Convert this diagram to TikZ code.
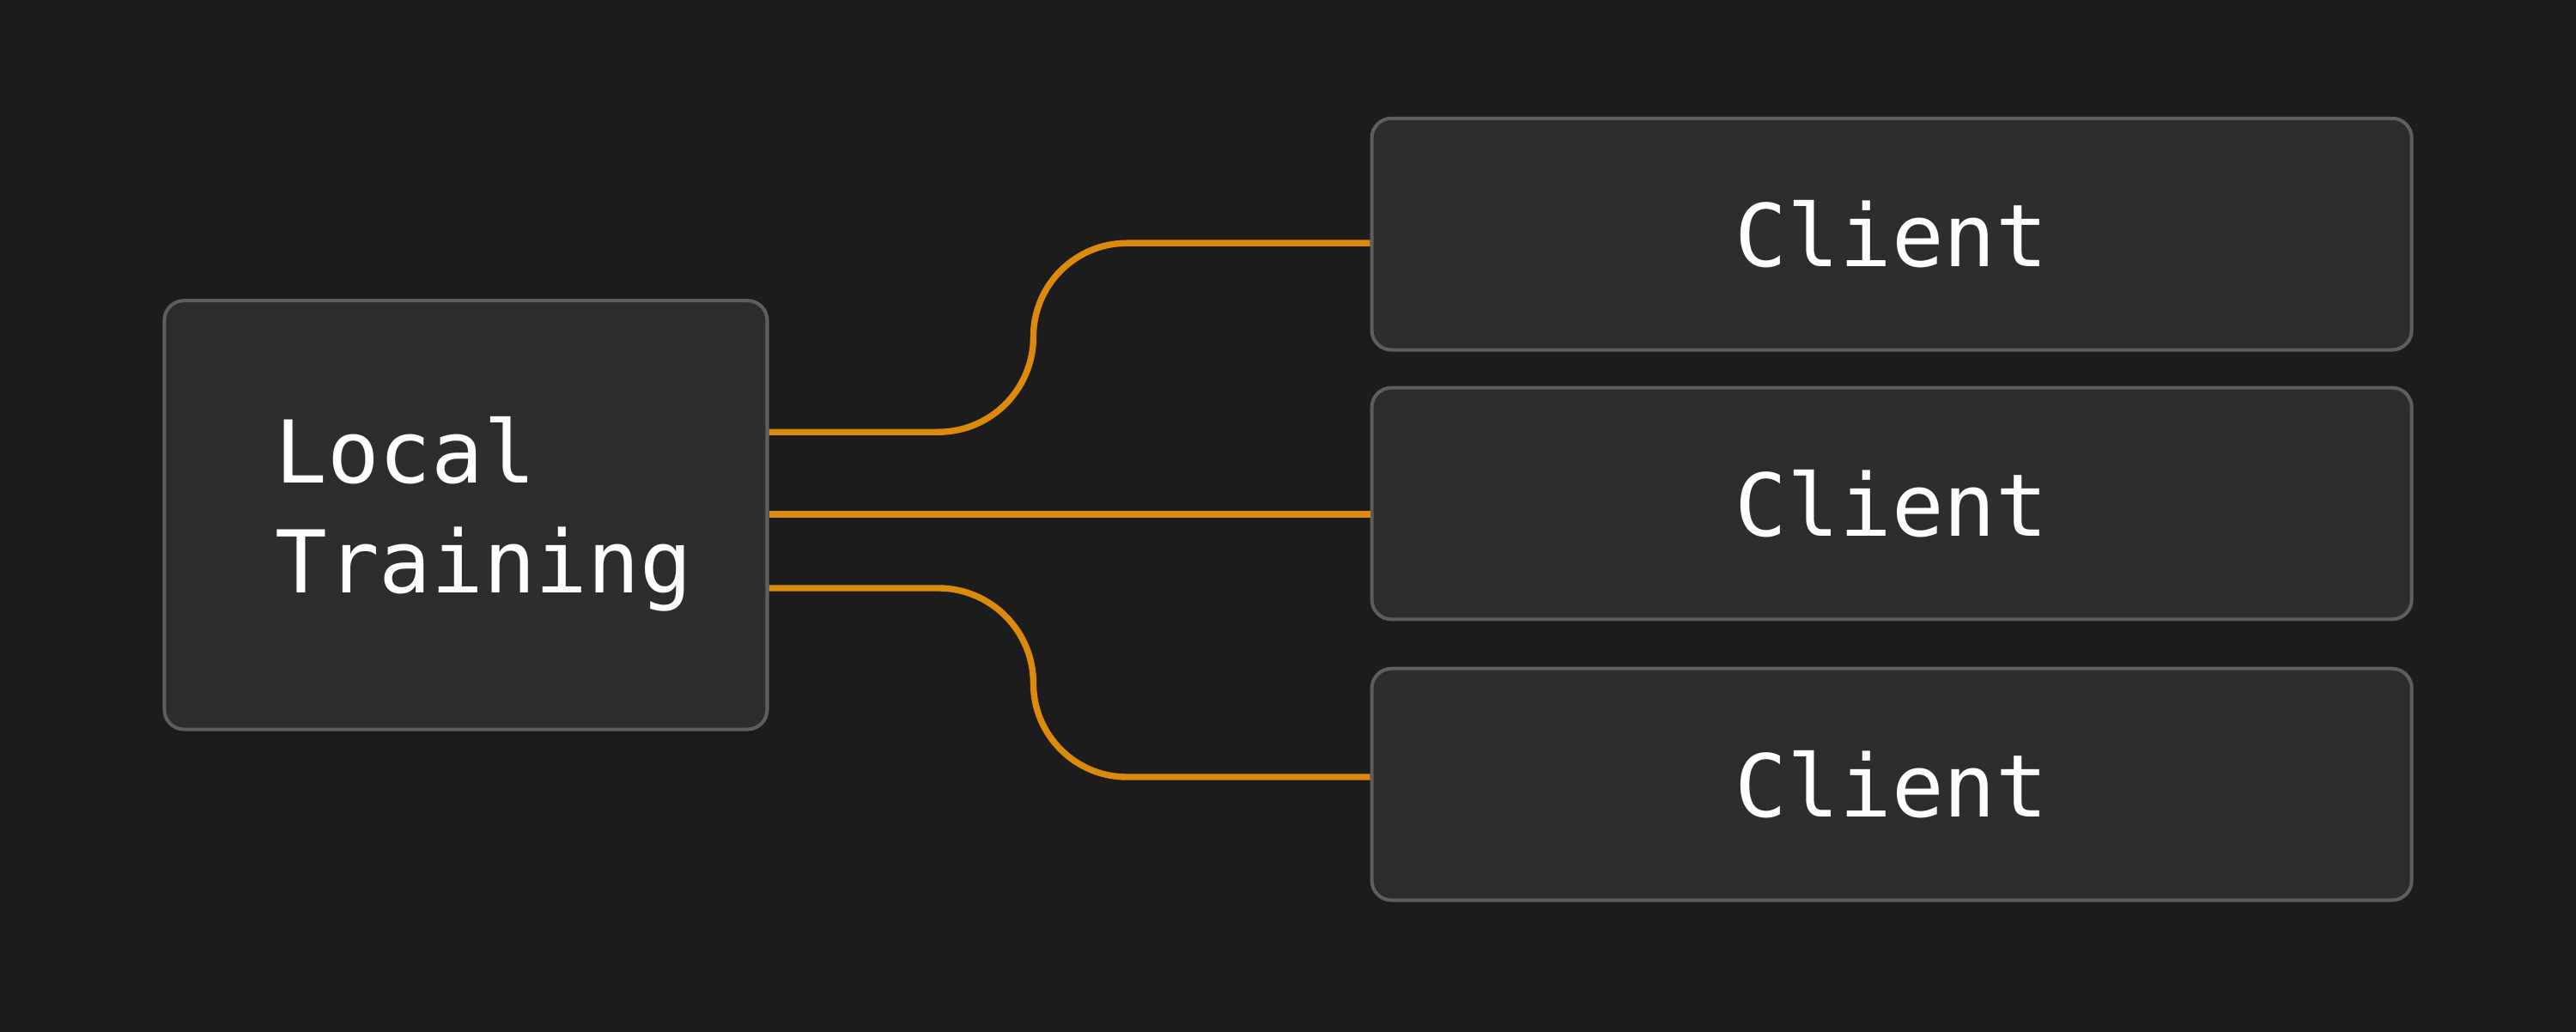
\documentclass[tikz,border=0pt]{standalone}
\usepackage{fontspec}
\setmonofont{DejaVu Sans Mono}
\definecolor{bgdark}{HTML}{1C1C1C}
\definecolor{boxfill}{HTML}{2D2D2D}
\definecolor{boxline}{HTML}{5E5E5E}
\definecolor{wire}{HTML}{DB8A0C}
\tikzset{
  box/.style={draw=boxline, fill=boxfill, rounded corners=0.12cm, line width=0.6pt,
    text=white, font=\ttfamily\fontsize{15}{19}\selectfont},
  link/.style={draw=wire, line width=1.1pt}
}
\begin{document}
\begin{tikzpicture}
\fill[bgdark] (0,0) rectangle (15.68,6.28);
\useasboundingbox (0,0) rectangle (15.68,6.28);

\node[box, minimum width=3.67cm, minimum height=2.61cm] (lt) at (2.835,3.145) {};
\node[text=white, font=\ttfamily\fontsize{15}{19}\selectfont, align=left, anchor=west]
  (ltlabel) at (1.55,3.15) {Local\\Training};
\node[box, minimum width=6.33cm, minimum height=1.41cm] (c1) at (11.515,4.855) {Client};
\node[box, minimum width=6.33cm, minimum height=1.41cm] (c2) at (11.515,3.215) {Client};
\node[box, minimum width=6.33cm, minimum height=1.41cm] (c3) at (11.515,1.505) {Client};

% connectors
\coordinate (up) at (5.71,3.65);
\coordinate (dn) at (5.71,2.70);
\draw[link] (lt.east |- up) -- (up) arc[start angle=-90, end angle=0, radius=0.58]
  arc[start angle=180, end angle=90, radius=0.57] -- ++(1.48,0) coordinate (e1);
\draw[link] (lt.east |- 0,3.15) -- (c2.west |- 0,3.15);
\draw[link] (lt.east |- dn) -- (dn) arc[start angle=90, end angle=0, radius=0.58]
  arc[start angle=180, end angle=270, radius=0.57] -- ++(1.48,0) coordinate (e3);
\end{tikzpicture}
\end{document}
